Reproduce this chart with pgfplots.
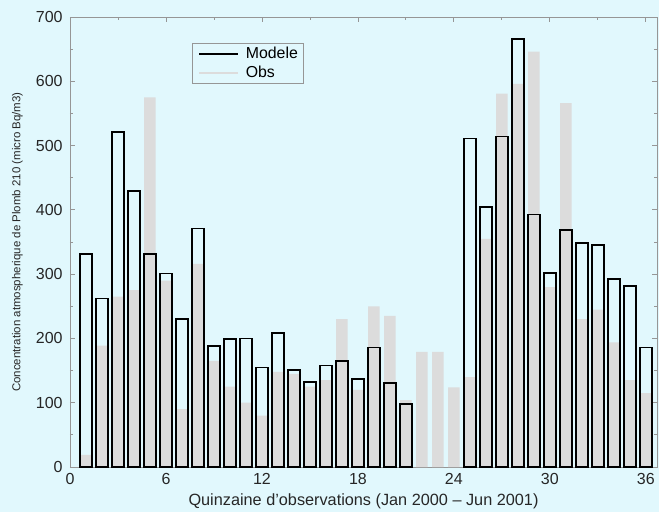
\documentclass[border=0pt]{standalone}
\usepackage{fontspec}
\setmainfont{Liberation Sans}
\usepackage{pgfplots}
\pgfplotsset{compat=1.18}
\usepackage{pgfplotstable}

\definecolor{bgcol}{RGB}{225,248,253}
\definecolor{obsgray}{RGB}{220,220,220}
\definecolor{framegray}{RGB}{150,150,150}

% Fortnightly Pb-210 concentrations: model and observations
\pgfplotstableread{
n  model
1  331
2  262
3  521
4  429
5  331
6  301
7  230
8  371
9  188
10 199
11 200
12 155
13 208
14 151
15 132
16 158
17 165
18 137
19 186
20 131
21 98
25 511
26 405
27 514
28 666
29 393
30 302
31 369
32 349
33 345
34 292
35 282
36 186
}\modeltab

\pgfplotstableread{
n  obs
1  19
2  189
3  265
4  275
5  575
6  290
7  90
8  316
9  165
10 125
11 100
12 80
13 148
14 145
15 125
16 135
17 230
18 120
19 250
20 235
21 104
22 179
23 179
24 124
25 140
26 355
27 581
28 596
29 646
30 280
31 566
32 230
33 245
34 194
35 135
36 115
}\obstab

\begin{document}
\begin{tikzpicture}
\fill[bgcol] (-52.5pt,-33.75pt) rectangle (441.75pt,350.25pt);
\begin{axis}[
  scale only axis,
  width=440.25pt, height=337.5pt,
  xmin=0, xmax=36.7,
  ymin=0, ymax=700,
  axis line style={framegray, line width=0.6pt},
  every tick/.style={framegray, line width=0.6pt},
  tick align=inside,
  major tick length=4pt,
  minor tick length=2.5pt,
  xtick={0,6,...,36},
  minor xtick={3,9,...,33},
  ytick={0,100,...,700},
  minor ytick={50,150,...,650},
  tick label style={font=\fontsize{12}{13}\selectfont, text=black!85},
  yticklabel style={xshift=-2pt},
  xticklabel style={yshift=-1pt},
  /pgf/number format/assume math mode=true,
  xlabel={Quinzaine d'observations (Jan 2000 – Jun 2001)},
  xlabel style={font=\fontsize{12.2}{13}\selectfont, text=black!85, yshift=-0.5pt},
  ylabel={Concentration atmospherique de Plomb 210 (micro Bq/m3)},
  ylabel style={font=\fontsize{8.6}{9}\selectfont, text=black!85, yshift=3pt},
  legend style={at={(0.208,0.942)}, anchor=north west, draw=framegray,
    fill=bgcol, font=\fontsize{11.9}{13}\selectfont, row sep=0pt,
    inner xsep=2pt, inner ysep=1pt},
  legend cell align=left,
  legend image code/.code={\draw[#1] (2.5pt,0pt) -- (31.5pt,0pt); \path (0pt,0pt) (35pt,0pt);},
]
\addlegendimage{black, line width=1.1pt}
\addlegendentry{Modele}
\addlegendimage{obsgray, line width=1.1pt}
\addlegendentry{Obs}

\addplot[ybar, bar width=0.72, bar shift=0pt, fill=obsgray, draw=none, forget plot]
  table[x=n, y=obs] {\obstab};
\addplot[ybar, bar width=0.75, bar shift=0pt, fill=none, draw=black, line width=1.3pt, forget plot]
  table[x=n, y=model] {\modeltab};
\end{axis}
\pgfresetboundingbox
\path[use as bounding box] (-52.5pt,-33.75pt) rectangle (441.75pt,350.25pt);
\end{tikzpicture}
\end{document}
